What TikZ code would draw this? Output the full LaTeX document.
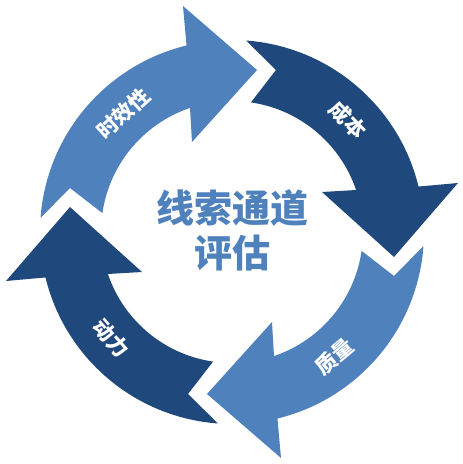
\documentclass[tikz,border=0pt]{standalone}
\usepackage{fontspec}
\newfontfamily\cjk{Noto Sans CJK SC}
\definecolor{azul}{HTML}{4F81BD}
\definecolor{azulosc}{HTML}{1F497D}

\begin{document}
\begin{tikzpicture}[x=1pt,y=1pt,
    etiqueta/.style={text=white,font=\cjk\bfseries\fontsize{21}{21}\selectfont},
    centro/.style={text=azul,align=center,font=\cjk\bfseries\fontsize{38}{45}\selectfont}]
  \useasboundingbox (-232,-232) rectangle (231,232);
  % four curved arrows, one turned by 90 degrees each time
  \foreach \r/\c in {0/azul,-90/azulosc,-180/azul,-270/azulosc}
    \fill[\c,rotate=\r] (175.8:192) arc[start angle=175.8,end angle=103.7,radius=192]
      -- (-49,226) -- (25,162) -- (-40,90) -- (108.7:131)
      arc[start angle=108.7,end angle=171.7,radius=131] -- (-162,44) -- cycle;
  \node[etiqueta,rotate=42] (shixiao) at (132.5:161) {时效性};
  \node[etiqueta,rotate=-46] (chengben) at (44:161) {成本};
  \node[etiqueta,rotate=40] (zhiliang) at (-50.6:161) {质量};
  \node[etiqueta,rotate=-49] (dongli) at (-138.6:161) {动力};
  \node[centro] (pinggu) at (1,2) {线索通道\\评估};
\end{tikzpicture}
\end{document}
